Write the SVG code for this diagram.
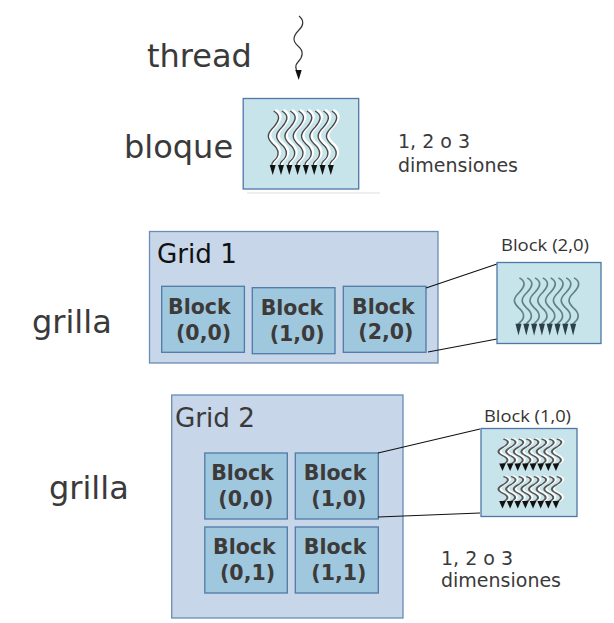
<svg xmlns="http://www.w3.org/2000/svg" xmlns:xlink="http://www.w3.org/1999/xlink" width="614" height="623" viewBox="0 0 614 623">
<style>
text{font-family:"DejaVu Sans",sans-serif;fill:#3a3a3a}
.big{font-size:32px}
.mid{font-size:19px}
.grid{font-size:26.200px}
.b{font-size:20.500px;font-weight:bold;fill:#3d3a3a}
.cap{font-family:"Open Sans",sans-serif;font-size:17px;fill:#333}
.gr{fill:#c7d6e9;stroke:#6b8db5;stroke-width:1.3}
.bk{fill:#9fc8de;stroke:#4f7aa5;stroke-width:1.3}
.in{fill:#c6e4ea;stroke:#4f76a5;stroke-width:1.3}
.conn{stroke:#111;stroke-width:1.1;fill:none}
</style>
<defs>
<g id="w"><path d="M1,1C8,5 7,10 1,17C-6,24 -6,28 0,34C7,40 7,46 1,51C-2,54 -1,56 0,58" fill="none" stroke="#fff" stroke-width="3" transform="translate(1.500,-1)"/><path d="M1,1C8,5 7,10 1,17C-6,24 -6,28 0,34C7,40 7,46 1,51C-2,54 -1,56 0,58" fill="none" stroke="#484848" stroke-width="1.400"/><path d="M-3,55H3L0,65Z" fill="#111"/></g>
<g id="row"><use xlink:href="#w" x="0"/><use xlink:href="#w" x="8.300"/><use xlink:href="#w" x="16.600"/><use xlink:href="#w" x="24.900"/><use xlink:href="#w" x="33.200"/><use xlink:href="#w" x="41.500"/><use xlink:href="#w" x="49.800"/><use xlink:href="#w" x="58.100"/></g>
<g id="w2"><path d="M1,1C8,5 7,10 1,17C-6,24 -6,28 0,34C7,40 7,46 1,51C-2,54 -1,56 0,58" fill="none" stroke="#5f8088" stroke-width="1.800"/><path d="M-3.200,52H3.200L0,65Z" fill="#2c4046"/></g>
<g id="row2"><use xlink:href="#w2" x="0"/><use xlink:href="#w2" x="8.300"/><use xlink:href="#w2" x="16.600"/><use xlink:href="#w2" x="24.900"/><use xlink:href="#w2" x="33.200"/><use xlink:href="#w2" x="41.500"/><use xlink:href="#w2" x="49.800"/><use xlink:href="#w2" x="58.100"/></g>
<g id="w3"><path d="M1,1C8,5 7,10 1,17C-6,24 -6,28 0,34C7,40 7,46 1,51C-2,54 -1,56 0,58" fill="none" stroke="#fff" stroke-width="3.500" transform="translate(1.500,-1)"/><path d="M1,1C8,5 7,10 1,17C-6,24 -6,28 0,34C7,40 7,46 1,51C-2,54 -1,56 0,58" fill="none" stroke="#555" stroke-width="2.200"/><path d="M-3.600,50H3.600L0,65Z" fill="#111"/></g>
<g id="row3"><use xlink:href="#w3" x="0"/><use xlink:href="#w3" x="8.300"/><use xlink:href="#w3" x="16.600"/><use xlink:href="#w3" x="24.900"/><use xlink:href="#w3" x="33.200"/><use xlink:href="#w3" x="41.500"/><use xlink:href="#w3" x="49.800"/><use xlink:href="#w3" x="58.100"/></g>
</defs>
<g id="thread-label"><text class="big" x="147" y="67">thread</text>
<path d="M299,16C304,20 304,25 299,30C293,36 292,41 298,46C304,51 303,57 298,62C294,66 296,70 298,73" fill="none" stroke="#333" stroke-width="1.200"/><path d="M295.300,70H301.700L298.700,80Z" fill="#111"/></g>
<g id="bloque"><text class="big" x="124" y="158">bloque</text>
<rect class="in" x="243.200" y="98.500" width="115.500" height="90.500"/>
<use xlink:href="#row" x="272.700" y="110"/>
<path d="M247,193H380" stroke="#ddd" stroke-width="1"/>
<text class="mid"><tspan x="398" y="148">1, 2 o 3</tspan><tspan x="398" y="172">dimensiones</tspan></text></g>
<g id="grid1"><text class="big" x="32" y="333">grilla</text>
<rect class="gr" x="149.500" y="231.500" width="288.500" height="131.500"/>
<text class="grid" x="157" y="263" style="fill:#111">Grid 1</text></g>
<g id="g1b0"><rect class="bk" x="161.700" y="286.300" width="82.700" height="66"/><text class="b"><tspan x="168" y="314">Block</tspan><tspan x="176" y="340">(0,0)</tspan></text></g>
<g id="g1b1"><rect class="bk" x="252.300" y="287.700" width="82.700" height="66"/><text class="b"><tspan x="260.700" y="315">Block</tspan><tspan x="269.700" y="341">(1,0)</tspan></text></g>
<g id="g1b2"><rect class="bk" x="343.300" y="286.300" width="82.700" height="66"/><text class="b"><tspan x="352" y="314">Block</tspan><tspan x="358.300" y="339">(2,0)</tspan></text></g>
<g id="grid2"><text class="big" x="49" y="499">grilla</text>
<rect class="gr" x="171.700" y="395" width="231.300" height="223"/>
<text class="grid" x="175" y="427">Grid 2</text></g>
<g id="g2b00"><rect class="bk" x="204.800" y="453" width="82.500" height="66"/><text class="b"><tspan x="211.200" y="480">Block</tspan><tspan x="218.300" y="506">(0,0)</tspan></text></g>
<g id="g2b10"><rect class="bk" x="295.300" y="453" width="83" height="66"/><text class="b"><tspan x="303.800" y="480">Block</tspan><tspan x="311.300" y="506">(1,0)</tspan></text></g>
<g id="g2b01"><rect class="bk" x="204.800" y="527" width="82.500" height="66"/><text class="b"><tspan x="213" y="554">Block</tspan><tspan x="220" y="580">(0,1)</tspan></text></g>
<g id="g2b11"><rect class="bk" x="295.300" y="527" width="83" height="66"/><text class="b"><tspan x="303.800" y="554">Block</tspan><tspan x="311.300" y="580">(1,1)</tspan></text></g>
<g id="connectors"><path class="conn" d="M426,288L497,264M428,352L497,339M378,453L480,429M378,517L480,513"/></g>
<g id="inset20"><text class="cap" x="501" y="251" textLength="88" lengthAdjust="spacingAndGlyphs">Block (2,0)</text>
<rect class="in" x="497" y="262.500" width="104" height="81"/>
<use xlink:href="#row2" transform="translate(518.500,277) scale(0.94,0.9)"/></g>
<g id="inset10"><text class="cap" x="484" y="422" textLength="87" lengthAdjust="spacingAndGlyphs">Block (1,0)</text>
<rect class="in" x="481" y="428.500" width="96" height="88"/>
<use xlink:href="#row3" transform="translate(502.500,438.500) scale(0.92,0.5)"/>
<use xlink:href="#row3" transform="translate(502.500,476) scale(0.92,0.5)"/></g>
<g id="note2"><text class="mid"><tspan x="441" y="565">1, 2 o 3</tspan><tspan x="441" y="587">dimensiones</tspan></text></g>
</svg>
